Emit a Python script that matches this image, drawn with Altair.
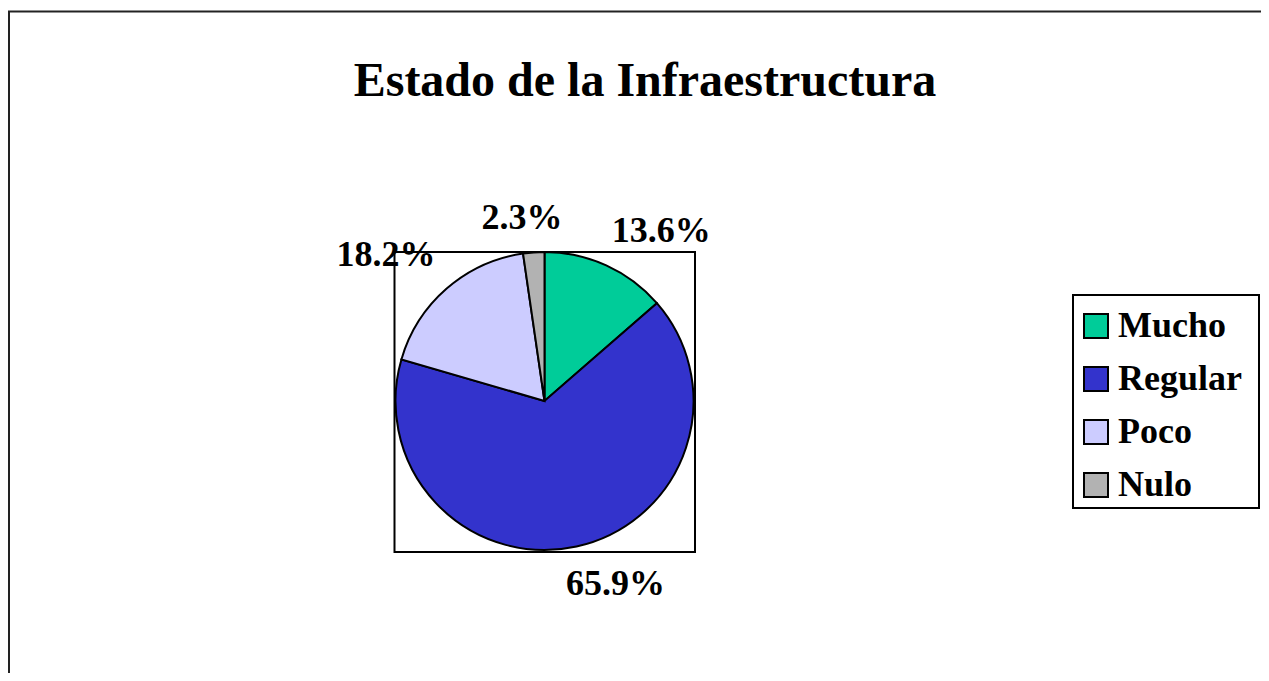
import altair as alt
import pandas as pd

# ---- data ----
categories = ["Mucho", "Regular", "Poco", "Nulo"]
percentages = [13.6, 65.9, 18.2, 2.3]
labels = ["13.6%", "65.9%", "18.2%", "2.3%"]
colors = ["#00CC99", "#3333CC", "#CCCCFF", "#B2B2B2"]
title_text = "Estado de la Infraestructura"

df = pd.DataFrame({
    "cat": categories,
    "pct": percentages,
    "label": labels,
    "idx": list(range(len(categories))),
})

# ---- layout (chart coordinates = page coordinates - 8) ----
W, H = 1253, 665
CX, CY = 536.5, 393
R = 149
LR = 160
FONT = "Liberation Serif"
TWO_PI = 6.283185307179586

theta_scale = alt.Scale(domain=[0, 100], range=[0, TWO_PI])

base = alt.Chart(df)

pie = base.mark_arc(outerRadius=R, stroke="black", strokeWidth=2).encode(
    theta=alt.Theta("pct:Q", stack=True, scale=theta_scale),
    color=alt.Color(
        "cat:N",
        sort=categories,
        scale=alt.Scale(domain=categories, range=colors),
        legend=alt.Legend(
            title=None,
            orient="none",
            legendX=1065,
            legendY=295,
            symbolType="square",
            symbolSize=576,
            symbolStrokeColor="black",
            symbolStrokeWidth=2,
            symbolOpacity=1,
            labelFont=FONT,
            labelFontSize=36,
            labelFontWeight="bold",
            labelColor="black",
            labelOffset=4,
            rowPadding=17,
            padding=5,
        ),
    ),
    order=alt.Order("idx:Q"),
    x=alt.value(CX),
    y=alt.value(CY),
)

lab_base = (
    base.transform_window(cum="sum(pct)", sort=[alt.SortField("idx")], frame=[None, 0])
    .transform_calculate(mid="datum.cum - datum.pct / 2")
)

label_style = {
    "Mucho": dict(align="left", dx=1, dy=-13),
    "Regular": dict(align="left", dx=-13, dy=38),
    "Poco": dict(align="right", dx=-4, dy=-14),
    "Nulo": dict(align="center", dx=-11, dy=-12),
}

label_layers = []
for cat in categories:
    st = label_style[cat]
    label_layers.append(
        lab_base.transform_filter(alt.datum.cat == cat)
        .mark_text(
            font=FONT, fontSize=36, fontWeight="bold", color="black",
            baseline="alphabetic", align=st["align"], dx=st["dx"], dy=st["dy"],
        )
        .encode(
            theta=alt.Theta("mid:Q", stack=None, scale=theta_scale),
            radius=alt.value(LR),
            x=alt.value(CX),
            y=alt.value(CY),
            text=alt.Text("label:N"),
        )
    )

one = alt.Chart(pd.DataFrame({"t": [title_text]}))

title = one.mark_text(
    font=FONT, fontSize=48, fontWeight="bold", color="black",
    align="center", baseline="alphabetic",
).encode(x=alt.value(637), y=alt.value(88), text="t:N")

frame = one.mark_rect(fillOpacity=0, stroke="black", strokeWidth=2).encode(
    x=alt.value(386.5), x2=alt.value(687), y=alt.value(244), y2=alt.value(544)
)

legend_frame = one.mark_rect(fill="white", stroke="black", strokeWidth=2).encode(
    x=alt.value(1065), x2=alt.value(1251), y=alt.value(287), y2=alt.value(500)
)

top_line = one.mark_rule(color="#222222", strokeWidth=2).encode(
    x=alt.value(0), x2=alt.value(W), y=alt.value(3.5)
)
left_line = one.mark_rule(color="#222222", strokeWidth=2).encode(
    x=alt.value(1), y=alt.value(3), y2=alt.value(H)
)

chart = (
    alt.layer(legend_frame, frame, pie, *label_layers, title, top_line, left_line)
    .properties(
        width=W,
        height=H,
        autosize=alt.AutoSizeParams(type="none"),
        padding={"left": 0, "top": 0, "right": 0, "bottom": 0},
        background="white",
    )
    .configure_view(stroke=None)
)

chart.save("out.html", embed_options={"renderer": "svg", "actions": False})
